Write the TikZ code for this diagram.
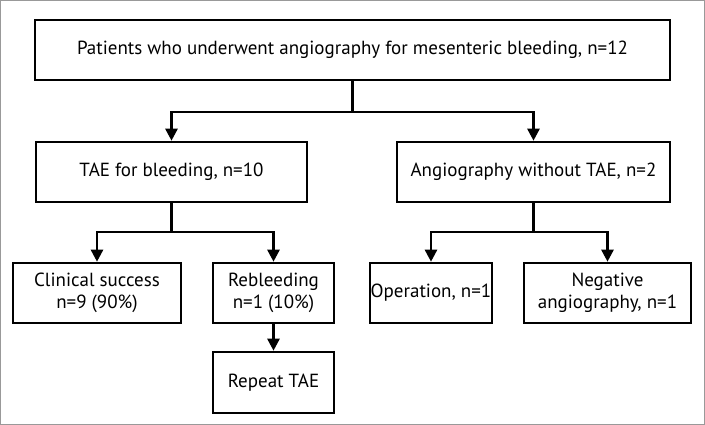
\documentclass[tikz,border=0pt]{standalone}
\usepackage{fontspec}
\setmainfont{PT Sans}
\usetikzlibrary{positioning,arrows.meta,calc}
\tikzset{
    box/.style={
        rectangle,
        draw=black,
        line width=2.6pt,
        align=center,
        inner sep=0pt,
        font=\fontsize{19}{22}\selectfont,
    },
    connector/.style={
        line width=2.6pt,
        -{Triangle[width=12pt,length=12pt]},
    },
    link/.style={
        line width=2.6pt,
    },
}
\begin{document}
\begin{tikzpicture}[x=1pt,y=-1pt]
    % frame
    \draw[gray!80,line width=1pt] (0.5,0.5) rectangle (704.5,424.5);
    % first level
    \node[box,minimum width=635pt,minimum height=60pt](top) at (352.5,50)
        {Patients who underwent angiography for mesenteric bleeding, n=12};
    \node[box,minimum width=271pt,minimum height=60pt](tae) at (171.5,172)
        {TAE for bleeding, n=10};
    \node[box,minimum width=273pt,minimum height=60pt](notae) at (533.5,172)
        {Angiography without TAE, n=2};
    % outcomes
    \node[box,minimum width=168pt,minimum height=60pt](clin) at (97,293)
        {Clinical success\\n=9 (90\%)};
    \node[box,minimum width=121pt,minimum height=60pt](rebl) at (273.5,293)
        {Rebleeding\\n=1 (10\%)};
    \node[box,minimum width=121pt,minimum height=61pt](rep) at (273.5,382.5)
        {Repeat TAE};
    \node[box,minimum width=122pt,minimum height=60pt](oper) at (431,293)
        {Operation, n=1};
    \node[box,minimum width=167pt,minimum height=60pt](neg) at (607.5,293)
        {Negative\\angiography, n=1};
    % junctions
    \coordinate (j1) at (352.5,112);
    \coordinate (j2) at (171.5,232);
    \coordinate (j3) at (533.5,232);
    \draw[link] (top.south) -- (j1);
    \draw[connector] (j1) -| (tae.north);
    \draw[connector] (j1) -| (notae.north);
    \draw[link] (tae.south) -- (j2);
    \draw[connector] (j2) -| (clin.north);
    \draw[connector] (j2) -| (rebl.north);
    \draw[connector] (rebl.south) -- (rep.north);
    \draw[link] (notae.south) -- (j3);
    \draw[connector] (j3) -| (oper.north);
    \draw[connector] (j3) -| (neg.north);
\end{tikzpicture}
\end{document}
